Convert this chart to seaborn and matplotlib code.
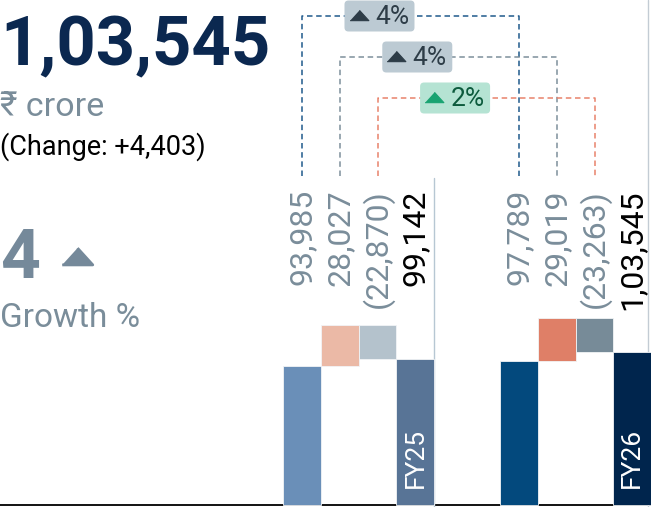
import numpy as np
import pandas as pd
import seaborn as sns
import matplotlib.pyplot as plt
from matplotlib.patches import FancyBboxPatch
from matplotlib.transforms import blended_transform_factory

sns.set_theme(style="white")
plt.rcParams["font.family"] = ["Roboto", "DejaVu Sans"]

# data (Rs crore)
years = ["FY25", "FY26"]
opening = [93985, 97789]
additions = [28027, 29019]
deductions = [-22870, -23263]
closing = [99142, 103545]
growth = [4, 4, 2]          # % change FY25 -> FY26 for opening, additions, deductions
headline = "1,03,545"
change_text = "(Change: +4,403)"
growth_pct = "4"

# colours
bar_colors = {
    "FY25": ["#6a8fb8", "#ebb9a6", "#b4c2cc", "#587496"],
    "FY26": ["#03497d", "#df7f67", "#778b98", "#00254d"],
}
link_colors = ["#1f5a8c", "#7d8f9b", "#e8826b"]
badge_face = ["#bccad3", "#bccad3", "#b5e3d3"]
badge_ink = ["#2d3c47", "#2d3c47", "#0d5b3d"]
badge_tri = ["#2d3c47", "#2d3c47", "#18a371"]
grey = "#7a8d9a"
navy = "#0b2850"


def inr(v):
    s = str(abs(v))
    if len(s) > 3:
        head, tail = s[:-3], s[-3:]
        parts = []
        while len(head) > 2:
            parts.insert(0, head[-2:])
            head = head[:-2]
        if head:
            parts.insert(0, head)
        s = ",".join(parts + [tail])
    return f"({s})" if v < 0 else s


# layout (pixels of the 651x507 canvas)
W, H = 651, 507
px_per_unit = 0.0014757
base_px = 505
slot_px = 37.8
first_px = 302
group_step = 5.74

rows = []
for g, yr in enumerate(years):
    x0 = g * group_step
    o, a, d, c = opening[g], additions[g], deductions[g], closing[g]
    steps = [(o, 0, o), (a, o, a), (d, o + a, d), (c, 0, c)]
    for i, (h, b, v) in enumerate(steps):
        rows.append(dict(year=yr, step=i, x=x0 + i, bottom=b, height=h, value=v,
                         color=bar_colors[yr][i]))
df = pd.DataFrame(rows)

fig = plt.figure(figsize=(W / 100, H / 100), dpi=100)
ax = fig.add_axes([0, 0, 1, 1])
ax.set_xlim(-first_px / slot_px, (W - first_px) / slot_px)
ax.set_ylim(-(H - base_px) / px_per_unit, base_px / px_per_unit)
ax.axis("off")
bt = blended_transform_factory(ax.transData, ax.transAxes)

# baseline and separators
ax.axhline(0, color="black", lw=1.3, zorder=1)
ax.plot([3.5, 3.5], [0, 1 - 178 / H], transform=bt, color="#b7c7d3", lw=1, zorder=1)
ax.plot([group_step + 3.42] * 2, [0, 1], transform=bt, color="#c3ccd4", lw=1, zorder=1)

# waterfall bars
ax.bar(df["x"], df["height"], bottom=df["bottom"], width=1, color=df["color"],
       edgecolor="#f2f4f6", linewidth=0.6, zorder=2)

# value labels
for _, r in df.iterrows():
    ax.text(r["x"], 1 - 189 / H, inr(r["value"]), transform=bt, rotation=90,
            ha="center", va="top", fontsize=23,
            color="black" if r["step"] == 3 else grey)
    if r["step"] == 3:
        ax.text(r["x"], 1 - 488 / H, r["year"], transform=bt, rotation=90,
                ha="center", va="bottom", fontsize=19, color="white", zorder=3)

# dashed connectors with growth badges
link_y = [16, 57, 98]
tri = [(-1, -0.55), (1, -0.55), (0, 0.55)]
for k in range(3):
    xl, xr = k, group_step + k
    yt = 1 - link_y[k] / H
    yb = 1 - 176 / H
    ax.plot([xl, xl, xr, xr], [yb, yt, yt, yb], transform=bt, color=link_colors[k],
            lw=1.1, ls=(0, (3.6, 2.4)), zorder=1)
    cx = xl + 2.05
    bw, bh = 70 / slot_px, 31 / H
    ax.add_patch(FancyBboxPatch((cx - bw / 2, yt - bh / 2), bw, bh,
                                boxstyle=f"round,pad=0,rounding_size={4 / slot_px}",
                                mutation_aspect=slot_px / H, transform=bt,
                                facecolor=badge_face[k], edgecolor="none", zorder=4))
    ax.plot([cx - 0.55], [yt + 1 / H], transform=bt, marker=tri, ms=13.5,
            color=badge_tri[k], mew=0.8, zorder=5)
    ax.text(cx + 0.33, yt - 1 / H, f"{growth[k]}%", transform=bt, ha="center",
            va="center", fontsize=19, color=badge_ink[k], zorder=5)

# left-hand summary
ax.text(0, 1 - 65 / H, headline, transform=ax.transAxes, fontsize=49.5,
        fontweight="bold", color=navy, va="baseline", ha="left")
ax.text(0, 1 - 116 / H, "₹ crore", transform=ax.transAxes, fontsize=24.5,
        color=grey, va="baseline", ha="left")
ax.text(0, 1 - 155 / H, change_text, transform=ax.transAxes, fontsize=19.5,
        color="black", va="baseline", ha="left")
ax.text(0, 1 - 278 / H, growth_pct, transform=ax.transAxes, fontsize=50,
        fontweight="bold", color="#75899a", va="baseline", ha="left")
ax.plot([76.5 / W], [1 - 256 / H], transform=ax.transAxes, marker=tri, ms=22,
        color="#75899a", mew=2, markeredgecolor="#75899a", clip_on=False)
ax.text(0, 1 - 327 / H, "Growth %", transform=ax.transAxes, fontsize=24,
        color=grey, va="baseline", ha="left")

fig.savefig("out.png", dpi=100)
